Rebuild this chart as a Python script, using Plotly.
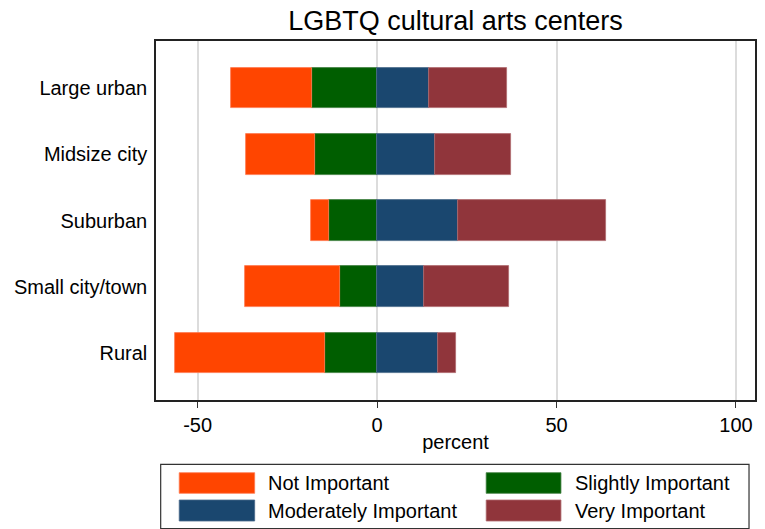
import plotly.graph_objects as go

categories = ["Large urban", "Midsize city", "Suburban", "Small city/town", "Rural"]
not_important = [22.7, 19.3, 4.8, 26.5, 41.8]
slightly_important = [18.1, 17.3, 13.5, 10.3, 14.5]
moderately_important = [14.6, 16.0, 22.6, 13.1, 16.9]
very_important = [21.6, 21.4, 41.2, 23.6, 5.1]
x_ticks = [-50, 0, 50, 100]

series_names = ["Not Important", "Slightly Important", "Moderately Important", "Very Important"]
colors = {"Not Important": "#FF4500", "Slightly Important": "#005E00",
          "Moderately Important": "#1A476F", "Very Important": "#90353B"}
edge = {"Not Important": "#FF7A4F", "Slightly Important": "#3F7F3F",
        "Moderately Important": "#4A6A8A", "Very Important": "#B06A6E"}

FONT = "Liberation Sans, Arial, Helvetica, sans-serif"
FS = 20
W, H = 765, 529
L, R, T, B = 156, 8, 41, 129
pw, ph = W - L - R, H - T - B

def px2x(px):
    return (px - L) / pw

def py2y(py):
    return (H - B - py) / ph

fig = go.Figure()
stack = [
    ("Slightly Important", [-v for v in slightly_important]),
    ("Not Important", [-v for v in not_important]),
    ("Moderately Important", moderately_important),
    ("Very Important", very_important),
]
for name, vals in stack:
    fig.add_trace(go.Bar(
        y=categories, x=vals, orientation="h", name=name,
        marker=dict(color=colors[name], line=dict(color=edge[name], width=0.8)),
        width=0.614, showlegend=False,
    ))

# custom legend
legend_items = [
    ("Not Important", 179.3, 255, 472.7, 493.3, 266.7),
    ("Slightly Important", 487.3, 562.3, 472.7, 493.3, 574),
    ("Moderately Important", 179.3, 255, 500, 521, 266.7),
    ("Very Important", 487.3, 562.3, 500, 521, 574),
]
shapes = [dict(type="rect", xref="paper", yref="paper",
               x0=px2x(160.7), x1=px2x(751), y0=py2y(528.5), y1=py2y(464.3),
               line=dict(color="#333333", width=1.2), fillcolor="rgba(0,0,0,0)")]
annotations = []
for name, x0, x1, y0, y1, tx in legend_items:
    shapes.append(dict(type="rect", xref="paper", yref="paper",
                       x0=px2x(x0), x1=px2x(x1), y0=py2y(y1), y1=py2y(y0),
                       fillcolor=colors[name], line=dict(color=edge[name], width=0.8)))
    annotations.append(dict(text=name, xref="paper", yref="paper",
                            x=px2x(tx), y=py2y((y0 + y1) / 2), xanchor="left", yanchor="middle",
                            showarrow=False, font=dict(family=FONT, size=FS, color="black")))

fig.update_layout(
    width=W, height=H,
    margin=dict(l=L, r=R, t=T, b=B),
    barmode="relative",
    bargap=0,
    plot_bgcolor="white", paper_bgcolor="white",
    font=dict(family=FONT, size=FS, color="black"),
    title=dict(text="LGBTQ cultural arts centers", x=0.5, xref="paper",
               y=(H - 21) / H, yref="container", yanchor="middle",
               font=dict(family=FONT, size=27, color="black")),
    shapes=shapes,
    annotations=annotations,
)
fig.update_xaxes(
    range=[-61.6, 105.3], tickvals=x_ticks, ticktext=[str(v) for v in x_ticks],
    showgrid=True, gridcolor="#DCDCDC", gridwidth=1.5,
    zeroline=True, zerolinecolor="#DCDCDC", zerolinewidth=1.5,
    showline=True, linecolor="#222222", linewidth=1.5, mirror=True,
    ticks="outside", ticklen=6, tickwidth=1.2, tickcolor="#333333",
    tickfont=dict(family=FONT, size=FS, color="black"),
    title=dict(text="percent", standoff=0, font=dict(family=FONT, size=FS, color="black")),
)
fig.update_yaxes(
    range=[4.71, -0.71], type="category",
    showgrid=False, zeroline=False,
    showline=True, linecolor="#222222", linewidth=1.5, mirror=True,
    ticks="", ticklabelstandoff=3,
    tickfont=dict(family=FONT, size=FS, color="black"),
)

fig.write_html("out.html", config={"displayModeBar": False},
               post_script="document.body.style.margin='0px';")
